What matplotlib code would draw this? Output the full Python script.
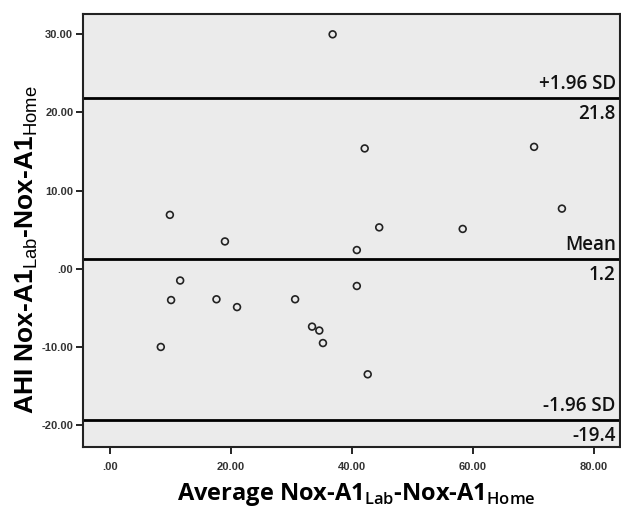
import matplotlib
matplotlib.use("Agg")
import matplotlib.pyplot as plt

# Data
avg = [36.8, 42.1, 70.1, 74.7, 44.5, 58.3, 40.8, 9.9, 19.0, 11.6,
       10.1, 17.6, 21.0, 30.6, 8.4, 40.8, 33.4, 34.6, 35.2, 42.6]
diff = [30.0, 15.4, 15.6, 7.7, 5.3, 5.1, 2.4, 6.9, 3.5, -1.5,
        -4.0, -3.9, -4.9, -3.9, -10.0, -2.2, -7.4, -7.9, -9.5, -13.5]
mean_val = 1.2
upper_val = 21.8
lower_val = -19.4
x_ticks = [0, 20, 40, 60, 80]
x_tick_labels = [".00", "20.00", "40.00", "60.00", "80.00"]
y_ticks = [-20, -10, 0, 10, 20, 30]
y_tick_labels = ["-20.00", "-10.00", ".00", "10.00", "20.00", "30.00"]

plt.rcParams['mathtext.fontset'] = 'custom'
plt.rcParams['mathtext.rm'] = 'Liberation Sans'
plt.rcParams['mathtext.bf'] = 'Open Sans:semibold'

fig = plt.figure(figsize=(6.21, 5.09), dpi=100)
ax = fig.add_axes([83/621, 62/509, 537/621, 433/509])
ax.set_facecolor('#ebebeb')

ax.scatter(avg, diff, s=24, facecolors='none', edgecolors='#222222', linewidths=1.2, zorder=3)

for v in (upper_val, mean_val, lower_val):
    ax.axhline(v, color='black', lw=2.0, zorder=2)

ax.set_xlim(-4.46, 84.3)
ax.set_ylim(-22.8, 32.6)

ax.set_xticks(x_ticks)
ax.set_xticklabels(x_tick_labels)
ax.set_yticks(y_ticks)
ax.set_yticklabels(y_tick_labels)
ax.tick_params(direction='out', length=5, width=1.2, colors='black', labelsize=8, pad=2)
for lab in ax.get_xticklabels() + ax.get_yticklabels():
    lab.set_fontfamily('Liberation Sans')
    lab.set_fontweight('bold')
    lab.set_color('#333333')
ax.tick_params(axis='x', pad=6)

for sp in ax.spines.values():
    sp.set_linewidth(1.5)
    sp.set_color('#222222')

tf = dict(family='Open Sans', fontsize=13.5, fontweight='semibold', ha='right', color='#111111')
xr = 83.6
ax.text(xr, upper_val + 0.6, "+1.96 SD", va='bottom', **tf)
ax.text(xr, upper_val - 0.7, f"{upper_val:.1f}", va='top', **tf)
ax.text(xr, mean_val + 0.6, "Mean", va='bottom', **tf)
ax.text(xr, mean_val - 0.7, f"{mean_val:.1f}", va='top', **tf)
ax.text(xr, lower_val + 0.6, "-1.96 SD", va='bottom', **tf)
ax.text(xr, lower_val - 0.7, f"{lower_val:.1f}", va='top', **tf)

fig.text(356/621, 1 - 494/509, r"Average Nox-A1$_{\mathbf{Lab}}$-Nox-A1$_{\mathbf{Home}}$",
         family='Open Sans', fontweight='bold', fontsize=17, ha='center', va='center')
fig.text(27/621, 1 - 250/509, r"AHI Nox-A1$_{\mathrm{Lab}}$-Nox-A1$_{\mathrm{Home}}$",
         family='Liberation Sans', fontweight='bold', fontsize=19, ha='center', va='center',
         rotation=90)

fig.savefig("out.png", dpi=100)
